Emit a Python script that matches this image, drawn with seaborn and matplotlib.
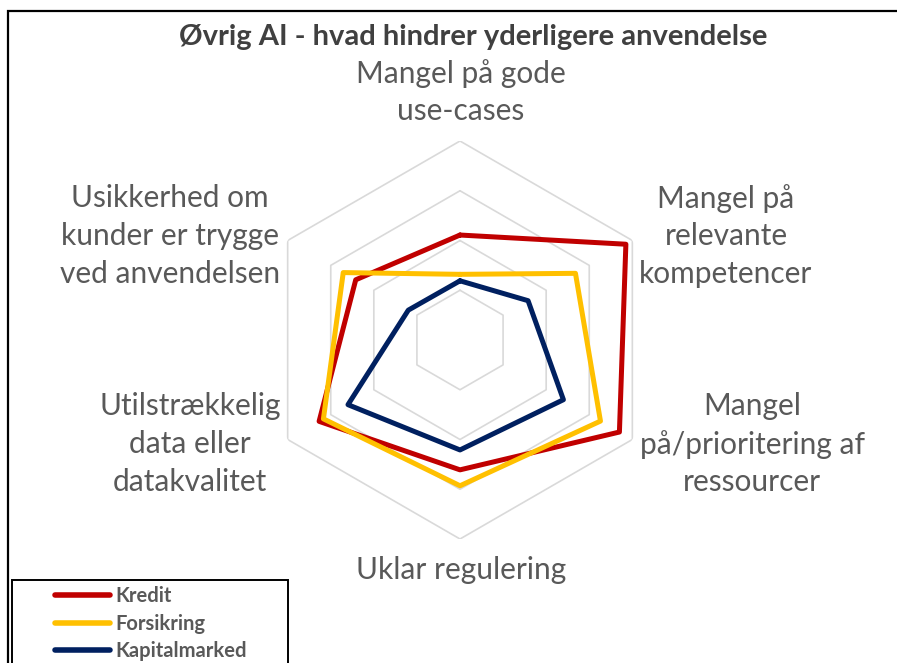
import numpy as np
import pandas as pd
import matplotlib
matplotlib.use("Agg")
import matplotlib.pyplot as plt
import seaborn as sns
from matplotlib.patches import Rectangle

# data (scale 0-4, four grid rings)
categories = [
    "Mangel på gode\nuse-cases",
    "Mangel på\nrelevante\nkompetencer",
    "Mangel\npå/prioritering af\nressourcer",
    "Uklar regulering",
    "Utilstrækkelig\ndata eller\ndatakvalitet",
    "Usikkerhed om\nkunder er trygge\nved anvendelsen",
]
kredit = [2.11, 3.85, 3.70, 2.61, 3.27, 2.42]
forsikring = [1.32, 2.68, 3.26, 2.93, 3.17, 2.71]
kapitalmarked = [1.19, 1.58, 2.40, 2.21, 2.60, 1.20]
series_names = ["Kredit", "Forsikring", "Kapitalmarked"]
ring_levels = [1, 2, 3, 4]
title = "Øvrig AI - hvad hindrer yderligere anvendelse"

colors = {"Kredit": "#C00000", "Forsikring": "#FFC000", "Kapitalmarked": "#002060"}

sns.set_theme(style="white")
plt.rcParams["font.family"] = ["Lato", "DejaVu Sans"]

n = len(categories)
angles = np.linspace(0, 2 * np.pi, n, endpoint=False)
closed = np.append(angles, angles[0])

rows = []
for name, vals in zip(series_names, [kredit, forsikring, kapitalmarked]):
    vv = list(vals) + [vals[0]]
    for i, (t, v) in enumerate(zip(closed, vv)):
        rows.append({"serie": name, "order": i, "theta": t, "value": v})
df = pd.DataFrame(rows)

W, H = 897, 663
fig = plt.figure(figsize=(W / 100, H / 100), dpi=100)
fig.patch.set_facecolor("white")

cx, cy, rad = 460, 340, 199
ax = fig.add_axes([(cx - rad) / W, (H - cy - rad) / H, 2 * rad / W, 2 * rad / H],
                  projection="polar")
ax.set_theta_offset(np.pi / 2)
ax.set_theta_direction(-1)
ax.set_ylim(0, 4)
ax.set_xticks([])
ax.set_yticks([])
ax.grid(False)
ax.spines["polar"].set_visible(False)
ax.set_facecolor("none")

# hexagonal grid rings
for lv in ring_levels:
    ax.plot(closed, [lv] * (n + 1), color="#D9D9D9", lw=1.2, zorder=1)

sns.lineplot(data=df, x="theta", y="value", hue="serie", units="serie",
             estimator=None, sort=False, palette=colors, hue_order=series_names,
             linewidth=3.6, ax=ax, legend=False, zorder=3)
ax.set_xlabel("")
ax.set_ylabel("")

# category labels
label_pos = [(461, 92), (726, 236), (752, 444), (461, 570), (190, 444), (170, 236)]
for lab, (x, y) in zip(categories, label_pos):
    fig.text(x / W, 1 - y / H, lab, ha="center", va="center", fontsize=21.5,
             color="#595959", linespacing=1.42)

fig.text(473 / W, 1 - 37 / H, title, ha="center", va="center", fontsize=21,
         fontweight="bold", color="#404040")

# outer frame (top and left edges visible)
fig.patches.append(Rectangle((8 / W, -0.1), 1.2, 1 - 11 / H + 0.1,
                             transform=fig.transFigure, fill=False,
                             edgecolor="black", lw=1.6, zorder=0))

# legend box
fig.patches.append(Rectangle((12 / W, -0.1), 276 / W, 1 - 580 / H + 0.1,
                             transform=fig.transFigure, fill=True, facecolor="white",
                             edgecolor="black", lw=1.4, zorder=0))
handles = [plt.Line2D([], [], color=colors[s], lw=4.0, solid_capstyle="round")
           for s in series_names]
leg = fig.legend(handles, series_names, loc="upper left",
                 bbox_to_anchor=(55 / W, 1 - 586 / H), frameon=False,
                 handlelength=2.75, handletextpad=0.25, borderpad=0,
                 labelspacing=0.38, prop={"weight": "bold", "size": 14.5},
                 borderaxespad=0)
for t in leg.get_texts():
    t.set_color("#595959")

fig.savefig("out.png", dpi=100)
